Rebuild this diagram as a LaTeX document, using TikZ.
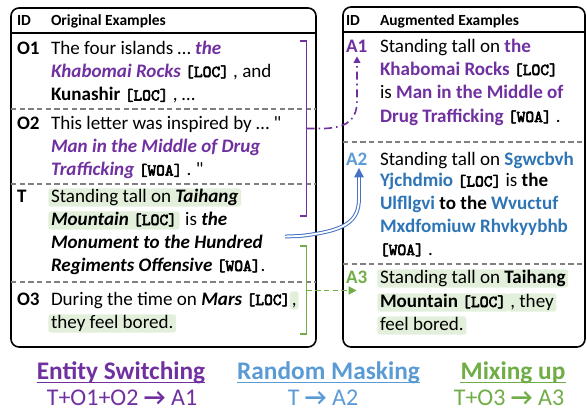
\documentclass[tikz,border=0pt]{standalone}
\usepackage{fontspec}
\setmainfont{Carlito}
\newfontfamily\nomapf{Carlito}[Ligatures=TeXOff]
\newfontfamily\tagf{lmmono10-regular.otf}[FakeBold=3.5]
\usetikzlibrary{arrows.meta,backgrounds}
\definecolor{pur}{HTML}{7030A0}
\definecolor{dblue}{HTML}{2E75B6}
\definecolor{lblue}{HTML}{5B9BD5}
\definecolor{abl}{HTML}{4472C4}
\definecolor{grn}{HTML}{70AD47}
\definecolor{hlg}{HTML}{E2EFDA}
\newcommand\tg[1]{{\tagf\fontsize{12.5}{13}\selectfont[#1]}}
\newcommand\pbi[1]{{\color{pur}\bfseries\itshape #1}}
\newcommand\pbu[1]{{\color{pur}\bfseries #1}}
\newcommand\bbl[1]{{\color{dblue}\bfseries #1}}
\newcommand\bi[1]{{\bfseries\itshape #1}}
\newcommand\sq{{\nomapf\symbol{34}}}
\tikzset{
  txt/.style={inner sep=0pt, anchor=text, font=\fontsize{14.3}{17}\selectfont},
  lbl/.style={txt, font=\fontsize{14.3}{17}\selectfont\bfseries},
  hl/.style={txt, fill=hlg, rounded corners=2pt, inner xsep=2pt, inner ysep=0pt, text height=10.3pt, text depth=3.4pt},
  hdr/.style={inner sep=0pt, anchor=text, font=\fontsize{11.6}{13}\selectfont\bfseries},
  panel/.style={draw=black, line width=1.2pt, rounded corners=6pt},
  sep/.style={draw=gray, dashed, line width=0.9pt, dash pattern=on 4pt off 2.5pt},
  captxt/.style={inner sep=0pt, anchor=base, font=\fontsize{19}{22}\selectfont\bfseries},
  ruletxt/.style={inner sep=0pt, anchor=base, font=\fontsize{18}{21}\selectfont},
}
\begin{document}
\begin{tikzpicture}[x=0.75pt,y=-0.75pt]
\useasboundingbox (0,0) rectangle (587,412);
% panels
\draw[panel] (11,8) rectangle (316,347);
\draw[panel] (343,7) rectangle (585,347);
\draw[line width=1pt] (11,33) -- (316,33);
\draw[line width=1pt] (343,32) -- (585,32);
\draw[sep] (11,109) -- (316,109);
\draw[sep] (11,184) -- (316,184);
\draw[sep] (11,282) -- (316,282);
\draw[sep] (343,142) -- (585,142);
\draw[sep] (343,264) -- (585,264);
% headers
\node[hdr] (hid1) at (17,25) {ID};
\node[hdr] (horig) at (51,25) {Original Examples};
\node[hdr] (hid2) at (346,25) {ID};
\node[hdr] (haug) at (380,25) {Augmented Examples};
% left labels
\node[lbl] (lO1) at (17,54) {O1};
\node[lbl] (lO2) at (17,129) {O2};
\node[lbl] (lT) at (17,202) {T};
\node[lbl] (lO3) at (17,305) {O3};
% O1
\node[txt] (o1a) at (51,54) {The four islands … \pbi{the}};
\node[txt] (o1b) at (51,77) {\pbi{Khabomai Rocks} \tg{LOC} , and};
\node[txt] (o1c) at (51,100.5) {\textbf{Kunashir} \tg{LOC} , …};
% O2
\node[txt] (o2a) at (51,129) {This letter was inspired by … \sq};
\node[txt] (o2b) at (51,152.5) {\pbi{Man in the Middle of Drug}};
\node[txt] (o2c) at (51,175.5) {\pbi{Trafficking} \tg{WOA} . \sq};
% T
\node[hl] (ta) at (51,202) {Standing tall on \bi{Taihang}};
\node[hl] (tb1) at (51,225) {\bi{Mountain} \tg{LOC}};
\node[txt] (tb2) at ([xshift=4pt]tb1.base east) {is \bi{the}};
\node[txt] (tc) at (51,248) {\bi{Monument to the Hundred}};
\node[txt] (td) at (51,271) {\bi{Regiments Offensive} \tg{WOA}.};
% O3
\node[txt] (o3a) at (51,305) {During the time on \bi{Mars} \tg{LOC}};
\node[hl, inner xsep=1.5pt] (o3b) at ([xshift=1pt]o3a.base east) {,};
\node[hl] (o3c) at (51,328) {they feel bored.};
% right labels
\node[lbl, text=pur] (lA1) at (346,52) {A1};
\node[lbl, text=lblue] (lA2) at (346,165) {A2};
\node[lbl, text=grn] (lA3) at (346,283) {A3};
% A1
\node[txt] (a1a) at (380,52) {Standing tall on \pbu{the}};
\node[txt] (a1b) at (380,75) {\pbu{Khabomai Rocks} \tg{LOC}};
\node[txt] (a1c) at (380,98) {is \pbu{Man in the Middle of}};
\node[txt] (a1d) at (380,122) {\pbu{Drug Trafficking} \tg{WOA} .};
% A2
\node[txt] (a2a) at (380,165) {Standing tall on \bbl{Sgwcbvh}};
\node[txt] (a2b) at (380,186.5) {\bbl{Yjchdmio} \tg{LOC} is \textbf{the}};
\node[txt] (a2c) at (380,209) {\bbl{Ulfllgvi} \textbf{to the} \bbl{Wvuctuf}};
\node[txt] (a2d) at (380,232) {\bbl{Mxdfomiuw Rhvkyybhb}};
\node[txt] (a2e) at (380,255) {\tg{WOA} .};
% A3
\node[hl] (a3a) at (380,283) {Standing tall on \textbf{Taihang}};
\node[hl] (a3b1) at (380,307) {\textbf{Mountain} \tg{LOC}};
\node[hl] (a3b2) at ([xshift=1pt]a3b1.base east) {, they};
\node[hl] (a3c) at (380,330) {feel bored.};
% purple bracket + dash-dot arrow
\coordinate (pbt) at (300,41);
\coordinate (pbb) at (300,216);
\coordinate (pmid) at (306.5,128.5);
\draw[pur, line width=1.2pt] (pbt) -- ++(6.5,0) -- ++(0,175) -- (pbb);
\draw[pur, line width=1.2pt, dash pattern=on 6pt off 3pt on 1.2pt off 3pt, -{Triangle[length=5pt,width=5pt]}]
  (pmid) -- (325,128.5) .. controls (350,127) and (357,118) .. (357,100) -- ([yshift=-3pt]lA1.south -| 357,0);
% blue double arrow
\coordinate (bstart) at (285,236.5);
\coordinate (bend) at (359,176);
\draw[abl, double=white, double distance=1.4pt, line width=0.75pt]
  (bstart) -- (300,236) .. controls (345,231) and (359,222) .. (359,198) -- (bend);
\draw[abl, line width=1pt, -{Triangle[length=7pt,width=7pt]}] ([yshift=1pt]bend) -- ([yshift=-2pt]lA2.south -| 359,0);
% green bracket + dashed arrow
\coordinate (gbt) at (300,246);
\coordinate (gbb) at (300,334);
\coordinate (gmid) at (306.5,290.5);
\draw[grn, line width=1.2pt] (gbt) -- ++(6.5,0) -- ++(0,88) -- (gbb);
\draw[grn, line width=1.2pt, dashed, dash pattern=on 4pt off 2.5pt, -{Triangle[length=6pt,width=6pt]}]
  (gmid) -- (gmid -| lA3.south);
% bottom captions
\node[captxt, text=pur] (es) at (121,379) {Entity Switching};
\draw[pur, line width=1.1pt] ([yshift=-2.8pt]es.base west) -- ([yshift=-2.8pt]es.base east);
\node[ruletxt, text=pur] (esr) at (122,405) {T+O1+O2 {\bfseries →} A1};
\node[captxt, text=lblue] (rm) at (328.5,379) {Random Masking};
\draw[lblue, line width=1.1pt] ([yshift=-2.8pt]rm.base west) -- ([yshift=-2.8pt]rm.base east);
\node[ruletxt, text=lblue] (rmr) at (323,405) {T {\bfseries →} A2};
\node[captxt, text=grn] (mu) at (513,379) {Mixing up};
\draw[grn, line width=1.1pt] ([yshift=-2.8pt]mu.base west) -- ([yshift=-2.8pt]mu.base east);
\node[ruletxt, text=grn] (mur) at (509,405) {T+O3 {\bfseries →} A3};
\end{tikzpicture}
\end{document}
